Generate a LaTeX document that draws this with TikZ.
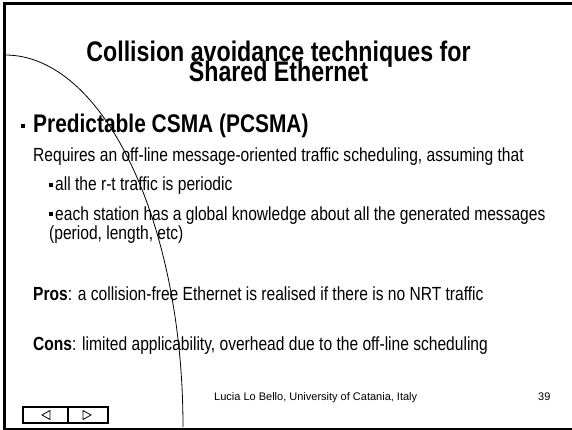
\documentclass[tikz,border=0pt]{standalone}
\usepackage{fontspec}
\setmainfont{Liberation Sans}[FakeStretch=0.82]
\newfontfamily\footfont{Liberation Sans}
\begin{document}
\begin{tikzpicture}[x=1pt,y=-1pt,
  txt/.style={anchor=base west,inner sep=0pt,font=\fontsize{19}{22}\selectfont},
  ttl/.style={anchor=base,inner sep=0pt,font=\fontsize{28.3}{30}\selectfont\bfseries},
  hdr/.style={anchor=base west,inner sep=0pt,font=\fontsize{25.5}{28}\selectfont\bfseries},
  foot/.style={anchor=base west,inner sep=0pt,font=\fontsize{11}{13}\selectfont\footfont},
  sq/.style={fill=black}]
\useasboundingbox (0,0) rectangle (572,430);
\fill[white] (0,0) rectangle (572,430);
% frame
\draw[line width=3pt] (572,3.5) -- (4,3.5) -- (4,429);
\draw[line width=2pt] (3,429) -- (572,429);
% curve
\draw[line width=0.8pt] (5,55) arc[start angle=-90,end angle=0,x radius=178,y radius=372];
% title
\node[ttl] (t1) at (278.5,62) {Collision avoidance techniques for};
\node[ttl] (t2) at (278.5,82) {Shared Ethernet};
% heading
\fill[sq] (21,124) rectangle (25,128);
\node[hdr] (h) at (33,133) {Predictable CSMA (PCSMA)};
\node[txt] (r) at (33,162) {Requires an off-line message-oriented traffic scheduling, assuming that};
\fill[sq] (48.5,183) rectangle (53,187.5);
\node[txt] (b1) at (55,191) {all the r-t traffic is periodic};
\fill[sq] (48.5,212) rectangle (53,216.5);
\node[txt] (b2) at (55,220) {each station has a global knowledge about all the generated messages};
\node[txt] (b3) at (49,240) {(period, length, etc)};
\node[txt] (pros) at (33,300) {\textbf{Pros}: a collision-free Ethernet is realised if there is no NRT traffic};
\node[txt] (cons) at (33,350) {\textbf{Cons}: limited applicability, overhead due to the off-line scheduling};
% footer
\node[foot] (f) at (214,400) {Lucia Lo Bello, University of Catania, Italy};
\node[foot] (pg) at (538,400) {39};
% navigation
\draw[line width=2pt] (23,407) rectangle (108,423);
\draw[line width=2pt] (68,407) -- (68,423);
\draw[line width=0.8pt] (42,415) -- (50,410.5) -- (50,419.5) -- cycle;
\draw[line width=0.8pt] (91,415) -- (83,410.5) -- (83,419.5) -- cycle;
\end{tikzpicture}
\end{document}
